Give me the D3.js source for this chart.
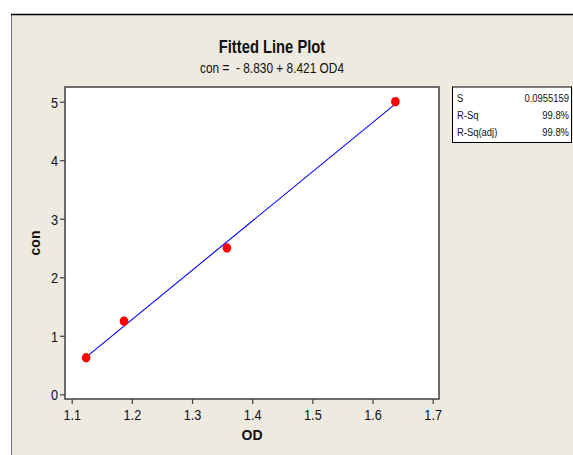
<!DOCTYPE html>
<html><head><meta charset="utf-8">
<script src="https://cdn.jsdelivr.net/npm/d3@7"></script>
<style>body{margin:0;background:#fff}svg{display:block}</style>
</head><body>
<script>
const od = [1.124, 1.187, 1.358, 1.638];
const con = [0.625, 1.25, 2.5, 5.0];
const intercept = -8.830, slope = 8.421;
const xTicks = [1.1, 1.2, 1.3, 1.4, 1.5, 1.6, 1.7];
const yTicks = [0, 1, 2, 3, 4, 5];
const statLabels = ["S", "R-Sq", "R-Sq(adj)"];
const statValues = ["0.0955159", "99.8%", "99.8%"];
const title = "Fitted Line Plot";
const subtitle = "con =  - 8.830 + 8.421 OD4";

const W = 573, H = 455;
const FONT = "'Liberation Sans', Arial, sans-serif";
const SQ = 0.82; // horizontal condensing of the narrow font
const svg = d3.select("body").append("svg").attr("width", W).attr("height", H);

function ntext(parent, px, py, str, size, anchor, bold) {
  const g = parent.append("g").attr("transform", `translate(${px},${py}) scale(${SQ},1)`);
  const t = g.append("text").attr("x", 0).attr("y", 0).attr("text-anchor", anchor || "start")
    .attr("font-family", FONT).attr("font-size", size).attr("fill", "#111")
    .attr("font-weight", bold ? "bold" : "normal").style("white-space", "pre").text(str);
  return t;
}

svg.append("rect").attr("x", 11).attr("y", 14).attr("width", W - 11).attr("height", H - 14).attr("fill", "#eeeae0");
svg.append("line").attr("x1", 11.5).attr("x2", 11.5).attr("y1", 14).attr("y2", H).attr("stroke", "#707070").attr("stroke-width", 1);
svg.append("line").attr("x1", 11).attr("x2", W).attr("y1", 14.5).attr("y2", 14.5).attr("stroke", "#000").attr("stroke-width", 1.5);

const L = 65, R = 439, T = 87, B = 399;
const x = d3.scaleLinear().domain([1.08886, 1.71047]).range([L, R]);
const y = d3.scaleLinear().domain([-0.0803, 5.251]).range([B, T]);

svg.append("rect").attr("x", L).attr("y", T).attr("width", R - L).attr("height", B - T)
  .attr("fill", "#fff").attr("stroke", "#404040").attr("stroke-width", 1.5);

const xa = svg.append("g").attr("transform", `translate(0,${B})`)
  .call(d3.axisBottom(x).tickValues(xTicks).tickFormat(d3.format(".1f")).tickSize(5).tickSizeOuter(0).tickPadding(5));
const ya = svg.append("g").attr("transform", `translate(${L},0)`)
  .call(d3.axisLeft(y).tickValues(yTicks).tickFormat(d3.format("d")).tickSize(5).tickSizeOuter(0).tickPadding(2));
[xa, ya].forEach(a => {
  a.select(".domain").remove();
  a.selectAll(".tick line").attr("stroke", "#404040").attr("stroke-width", 1.2);
  a.selectAll(".tick text").attr("font-family", FONT).attr("font-size", 15.5).attr("fill", "#111")
    .attr("transform", `scale(${SQ},1)`);
});
xa.selectAll(".tick text").attr("y", 21).attr("dy", null);
ya.selectAll(".tick text").attr("x", -7 / SQ).attr("dy", "0.36em");

// fitted line
const xs = d3.extent(od);
svg.append("line")
  .attr("x1", x(xs[0])).attr("y1", y(intercept + slope * xs[0]))
  .attr("x2", x(xs[1])).attr("y2", y(intercept + slope * xs[1]))
  .attr("stroke", "#0000ff").attr("stroke-width", 1.1);

svg.selectAll("ellipse.pt").data(od).enter().append("ellipse")
  .attr("cx", (d) => x(d)).attr("cy", (d, i) => y(con[i]))
  .attr("rx", 4.3).attr("ry", 4.7).attr("fill", "#ff0000");

ntext(svg, 272, 53, title, 18, "middle", true);
ntext(svg, 272, 72.5, subtitle, 14.5, "middle", false);

svg.append("text").attr("x", 252).attr("y", 440).attr("text-anchor", "middle")
  .attr("font-family", FONT).attr("font-weight", "bold").attr("font-size", 14).attr("fill", "#111").text("OD");
svg.append("text").attr("transform", "translate(39.5,243) rotate(-90)").attr("text-anchor", "middle")
  .attr("font-family", FONT).attr("font-weight", "bold").attr("font-size", 14).attr("fill", "#111").text("con");

// stats box
const bx = 452, by = 86.5, bw = 119, bh = 55.5;
svg.append("rect").attr("x", bx + 0.5).attr("y", by + 0.5).attr("width", bw).attr("height", bh)
  .attr("fill", "#fff").attr("stroke", "#000").attr("stroke-width", 1);
const rowY = d3.scalePoint().domain(statLabels).range([101.5, 136]);
statLabels.forEach((lab, i) => {
  ntext(svg, 457, rowY(lab), lab, 11.5, "start", false);
  ntext(svg, 569, rowY(lab), statValues[i], 11.5, "end", false);
});
</script>
</body></html>
